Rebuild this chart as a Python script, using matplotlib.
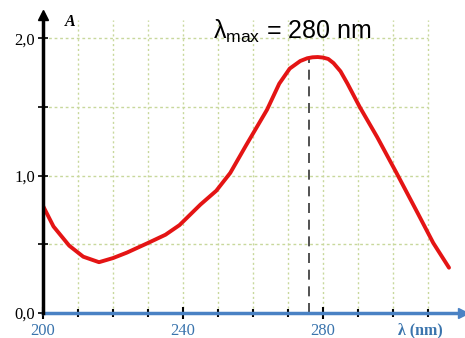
import numpy as np
import matplotlib
matplotlib.use("Agg")
import matplotlib.pyplot as plt

# absorbance spectrum
wavelength = [200, 203, 207.5, 211.5, 216, 220, 224, 230, 235, 239, 245, 249.5,
              253.5, 258, 264, 267.5, 270.5, 273.5, 275.5, 277, 278.5, 280, 281.5,
              283, 285, 287, 290.5, 295.5, 301, 307, 311.5, 316]
absorb = [0.78, 0.63, 0.49, 0.41, 0.37, 0.40, 0.44, 0.51, 0.57, 0.64, 0.79, 0.89,
          1.02, 1.22, 1.48, 1.67, 1.78, 1.835, 1.855, 1.862, 1.864, 1.86, 1.85,
          1.82, 1.76, 1.67, 1.50, 1.28, 1.02, 0.73, 0.51, 0.33]
lam_peak = 276
x_labels = [200, 240, 280]
y_labels = [0.0, 1.0, 2.0]
title = "$\\lambda_{\\rm max}$ = 280 nm"

blue = "#4a82c4"
label_blue = "#3a74ad"
grid_col = "#c8d89c"

plt.rcParams['mathtext.fontset'] = 'custom'
plt.rcParams['mathtext.rm'] = 'Liberation Sans'
plt.rcParams['mathtext.it'] = 'Liberation Sans'

fig = plt.figure(figsize=(4.65, 3.38), dpi=100)
W, H = 465, 338
ax = fig.add_axes([43 / W, 25 / H, 420 / W, 298 / H])
ax.set_xlim(200, 320)
ax.set_ylim(0, 2.17)

# grid
for gx in np.arange(210, 311, 10):
    ax.plot([gx, gx], [0, 2.13], color=grid_col, lw=1, ls=(0, (1.5, 2)), zorder=1)
for gy in [0.5, 1.0, 1.5, 2.0]:
    ax.plot([200, 310], [gy, gy], color=grid_col, lw=1, ls=(0, (2, 2)), zorder=1)

# curve + peak marker
ax.plot(wavelength, absorb, color="#e41414", lw=2.8, solid_capstyle='round',
        solid_joinstyle='round', zorder=3)
ax.plot([lam_peak, lam_peak], [0, 1.86], color="#333333", lw=1.2,
        ls=(0, (6, 4)), zorder=2)

# axes styling
for s in ['top', 'right']:
    ax.spines[s].set_visible(False)
ax.spines['left'].set_color('black')
ax.spines['left'].set_linewidth(2.5)
ax.spines['bottom'].set_color(blue)
ax.spines['bottom'].set_linewidth(2.5)
ax.spines['left'].set_zorder(4)
ax.plot(0, 1, '^', color='black', ms=7, transform=ax.transAxes, clip_on=False, zorder=5)
ax.plot(1, 0, '>', color=blue, ms=7, transform=ax.transAxes, clip_on=False, zorder=5)

ax.set_xticks(x_labels)
ax.set_xticks([t for t in range(210, 311, 10) if t not in x_labels], minor=True)
ax.set_xticklabels([str(v) for v in x_labels], family='Liberation Serif',
                   fontsize=12, color=label_blue)
ax.set_yticks(y_labels)
ax.set_yticks([0.5, 1.5], minor=True)
ax.set_yticklabels([f"{v:.1f}".replace('.', ',') for v in y_labels],
                   family='Liberation Serif', fontsize=12)
ax.tick_params(axis='x', which='major', direction='inout', length=9, width=1.5,
               color='black', pad=3)
ax.tick_params(axis='x', which='minor', direction='inout', length=6, width=1.5,
               color='black')
ax.tick_params(axis='y', which='both', direction='inout', length=7, width=1.2,
               color='black', pad=2)

ax.text(0.898, -0.058, "λ (nm)", transform=ax.transAxes, ha='center', va='center',
        family='Liberation Serif', fontweight='bold', fontsize=11.5, color=label_blue)
fig.text(70 / W, 1 - 22 / H, "A", ha='center', va='center', family='Liberation Serif',
         fontstyle='italic', fontweight='bold', fontsize=11.5)
fig.text(213 / W, 1 - 39 / H, title, ha='left', va='baseline',
         family='Liberation Sans', fontsize=18)

fig.savefig("out.png", dpi=100)
